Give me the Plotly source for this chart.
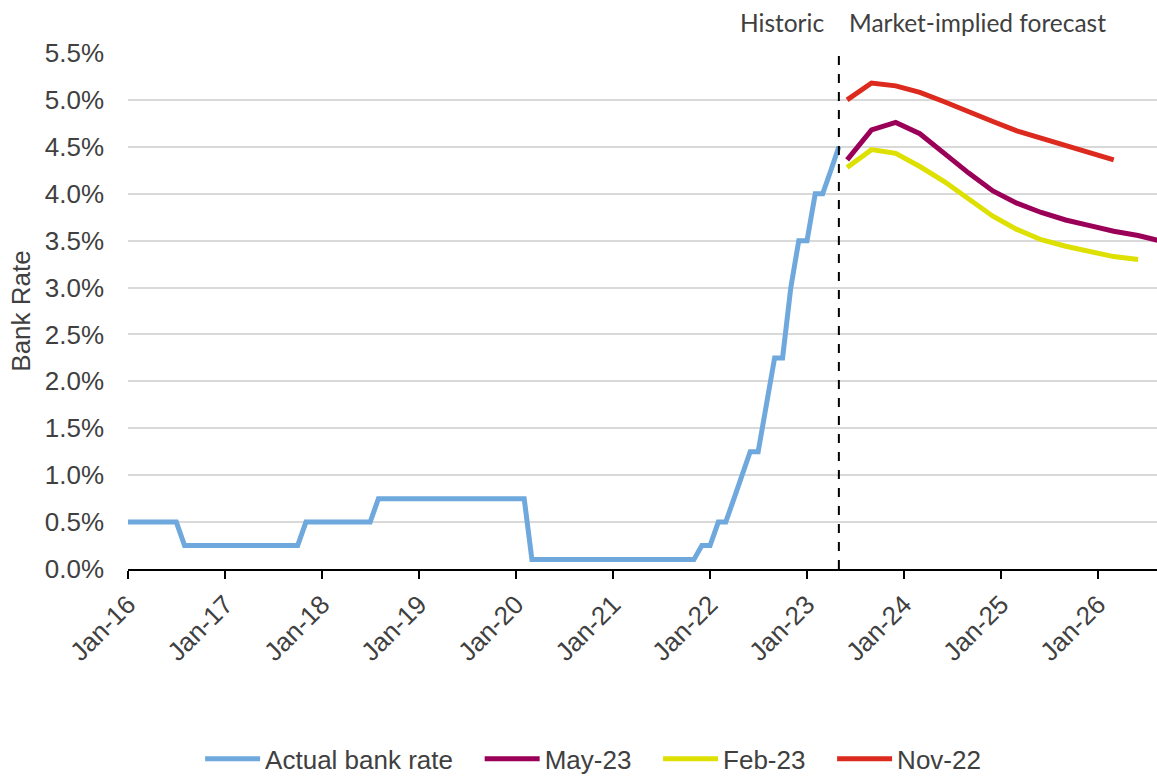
import pandas as pd
import plotly.graph_objects as go

# actual bank rate, monthly Jan-16 .. May-23 (%)
actual_dates = pd.date_range("2016-01-01", "2023-05-01", freq="MS")
actual_rate = [
    0.5, 0.5, 0.5, 0.5, 0.5, 0.5, 0.5,
    0.25, 0.25, 0.25, 0.25, 0.25, 0.25, 0.25, 0.25, 0.25, 0.25, 0.25, 0.25, 0.25, 0.25, 0.25,
    0.5, 0.5, 0.5, 0.5, 0.5, 0.5, 0.5, 0.5, 0.5,
    0.75, 0.75, 0.75, 0.75, 0.75, 0.75, 0.75, 0.75, 0.75, 0.75, 0.75, 0.75, 0.75, 0.75, 0.75,
    0.75, 0.75, 0.75, 0.75,
    0.1, 0.1, 0.1, 0.1, 0.1, 0.1, 0.1, 0.1, 0.1, 0.1, 0.1, 0.1, 0.1, 0.1, 0.1, 0.1, 0.1, 0.1,
    0.1, 0.1, 0.1,
    0.25, 0.25, 0.5, 0.5, 0.75, 1.0, 1.25, 1.25, 1.75, 2.25, 2.25, 3.0, 3.5, 3.5, 4.0, 4.0,
    4.25, 4.5,
]

# market-implied forecasts, quarterly from Jun-23 (%)
fc_dates = pd.date_range("2023-06-01", "2026-09-01", freq="3MS")
may23 = [4.36, 4.68, 4.76, 4.64, 4.43, 4.22, 4.03, 3.90, 3.80, 3.72, 3.66, 3.60, 3.555, 3.49]
feb23 = [4.28, 4.47, 4.43, 4.29, 4.13, 3.94, 3.76, 3.62, 3.51, 3.44, 3.38, 3.33, 3.30]
nov22 = [5.0, 5.18, 5.15, 5.08, 4.98, 4.87, 4.77, 4.67, 4.59, 4.51, 4.43, 4.36]

split_date = "2023-05-01"
year_ticks = pd.date_range("2016-01-01", "2026-01-01", freq="YS")
y_ticks = [0, 0.5, 1.0, 1.5, 2.0, 2.5, 3.0, 3.5, 4.0, 4.5, 5.0, 5.5]

FONT = "Liberation Sans, Arial, sans-serif"
TXT = "#404040"
PAD = "\u00a0\u00a0\u00a0"  # extra gap after legend labels

fig = go.Figure()
fig.add_trace(go.Scatter(x=actual_dates, y=actual_rate, mode="lines", name="Actual bank rate" + PAD,
                         line=dict(color="#6FA8DC", width=5)))
fig.add_trace(go.Scatter(x=fc_dates[:len(may23)], y=may23, mode="lines", name="May-23" + PAD,
                         line=dict(color="#9B0058", width=5)))
fig.add_trace(go.Scatter(x=fc_dates[:len(feb23)], y=feb23, mode="lines", name="Feb-23" + PAD,
                         line=dict(color="#DDE000", width=5)))
fig.add_trace(go.Scatter(x=fc_dates[:len(nov22)], y=nov22, mode="lines", name="Nov-22",
                         line=dict(color="#DC2A1E", width=5)))

fig.add_shape(type="line", xref="x", yref="paper", x0=split_date, x1=split_date, y0=0, y1=1.008,
              line=dict(color="black", width=2, dash="dash"))
ann_font = dict(family="Lato, sans-serif", size=24.5, color=TXT)
fig.add_annotation(text="Historic", xref="x", yref="paper", x=split_date, y=1.06,
                   xanchor="right", yanchor="middle", xshift=-13, showarrow=False, font=ann_font)
fig.add_annotation(text="Market-implied forecast", xref="x", yref="paper", x=split_date, y=1.06,
                   xanchor="left", yanchor="middle", xshift=8, showarrow=False, font=ann_font)

fig.update_layout(
    width=1157, height=778,
    margin=dict(l=128, r=0, t=53, b=209, autoexpand=False),
    paper_bgcolor="white", plot_bgcolor="white",
    font=dict(family=FONT, size=26, color=TXT),
    showlegend=True,
    legend=dict(orientation="h", x=0.452, xanchor="center", y=-0.368, yanchor="middle",
                font=dict(size=26), itemwidth=55),
)
fig.update_xaxes(
    type="date", range=["2016-01-01", "2026-08-11"],
    tickvals=year_ticks, ticktext=[d.strftime("%b-%y") for d in year_ticks],
    tickangle=-45, showgrid=False, showline=True, linecolor="black", linewidth=2,
    ticks="outside", ticklen=8, tickwidth=2, tickcolor="black", zeroline=False,
)
fig.update_yaxes(
    range=[0, 5.5], tickvals=y_ticks, ticktext=[f"{v:.1f}%" for v in y_ticks],
    showgrid=True, gridcolor="#D9D9D9", gridwidth=2, zeroline=False, showline=False,
    ticks="", ticklabelstandoff=23,
    title=dict(text="Bank Rate", standoff=6, font=dict(size=26)),
)

fig.write_html("out.html", config={"displayModeBar": False},
               post_script="document.body.style.margin='0px';")
